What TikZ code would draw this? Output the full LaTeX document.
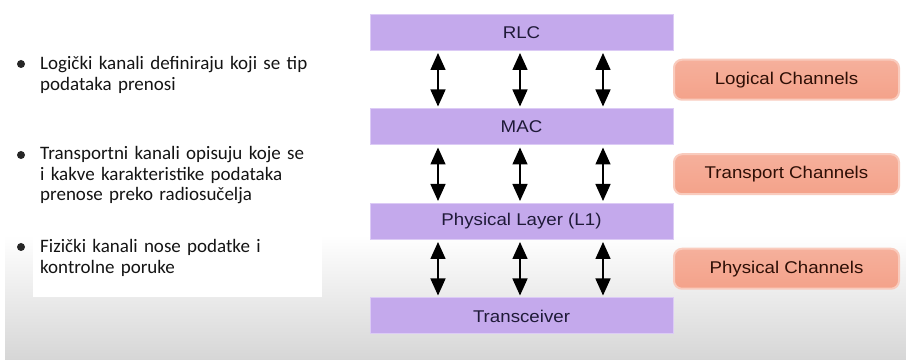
\documentclass[tikz,border=0pt]{standalone}
\usepackage{fontspec}
\setmainfont{Carlito}
\newfontfamily\diagfont[FakeStretch=1.1]{Liberation Sans}
\usetikzlibrary{
  calc, % For midpoints between layers
  positioning, % For relative placement of the layers
  arrows.meta % For arrow tips
}
\definecolor{layerfill}{HTML}{C4A9EC}
\definecolor{layeredge}{HTML}{DCCBF5}
\definecolor{layertext}{HTML}{1F1A38}
\definecolor{chanfill}{HTML}{F4A28A}
\definecolor{chanedge}{HTML}{F9CBBD}
\definecolor{chantext}{HTML}{2E0F06}
\definecolor{bgray}{HTML}{D6D6D6}

\begin{document}
\begin{tikzpicture}[
      x=1pt, y=-1pt, % pixel-like units, y downwards
      node distance=57.5pt, % gap between the layers
      layer/.style={fill=layerfill, draw=layeredge, line width=1pt,
        minimum width=303pt, minimum height=36pt, inner sep=0pt,
        text=layertext, font=\diagfont\fontsize{17}{20}\selectfont},
      chan/.style={rounded corners=8pt, top color=chanfill!85!white,
        bottom color=chanfill, draw=chanedge, line width=2pt,
        minimum width=225pt, minimum height=40pt, inner sep=0pt,
        text=chantext, font=\diagfont\fontsize{17}{20}\selectfont},
      updown/.style={{Triangle[width=15pt,length=17pt]}-{Triangle[width=15pt,length=17pt]},
        line width=1.5pt, black, shorten <=2pt, shorten >=2pt},
      item/.style={anchor=base west, inner sep=0pt, text width=290pt, align=left,
        font=\fontsize{19}{20.5}\selectfont, text=black!92},
      dot/.style={fill=black!85},
    ]
    % Hintergrund
    \useasboundingbox (0,0) rectangle (906,363);
    \fill[white] (0,0) rectangle (906,363);
    \shade[top color=white, bottom color=bgray] (5,235) rectangle (906,360);
    \fill[white] (33,0) rectangle (322,297);

    % Stichpunkte
    \fill[dot] (21,64) circle (4pt);
    \node[item] (logtxt) at (40,70) {Logički kanali definiraju koji se tip\\podataka prenosi};
    \fill[dot] (21,155) circle (4pt);
    \node[item] (trtxt) at (40,160) {Transportni kanali opisuju koje se\\i kakve karakteristike podataka\\prenose preko radiosučelja};
    \fill[dot] (21,247) circle (4pt);
    \node[item] (phtxt) at (40,253) {Fizički kanali nose podatke i\\kontrolne poruke};

    % Schichten
    \node[layer] (rlc) at (521.5,32.5) {RLC};
    \node[layer, below=of rlc] (mac) {MAC};
    \node[layer, below=of mac] (phy) {Physical Layer (L1)};
    \node[layer, below=of phy] (trx) {Transceiver};

    % Pfeile zwischen den Schichten
    \foreach \x in {438,520,603} {
      \draw[updown] (\x,0 |- rlc.south) -- (\x,0 |- mac.north);
      \draw[updown] (\x,0 |- mac.south) -- (\x,0 |- phy.north);
      \draw[updown] (\x,0 |- phy.south) -- (\x,0 |- trx.north);
    }

    % Kanaele
    \coordinate (g1) at ($(rlc.south)!0.5!(mac.north)$);
    \coordinate (g2) at ($(mac.south)!0.5!(phy.north)$);
    \coordinate (g3) at ($(phy.south)!0.5!(trx.north)$);
    \node[chan] (logch) at (786.5,0 |- g1) {Logical Channels};
    \node[chan] (trch) at (786.5,0 |- g2) {Transport Channels};
    \node[chan] (phch) at (786.5,0 |- g3) {Physical Channels};

  \end{tikzpicture}
\end{document}
